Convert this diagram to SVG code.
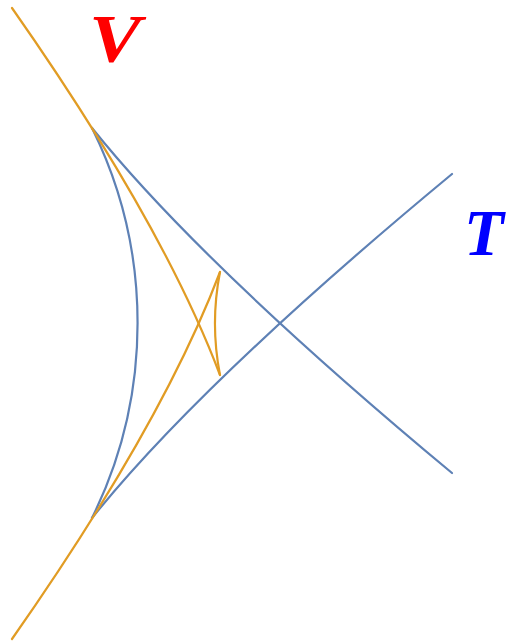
<svg xmlns="http://www.w3.org/2000/svg" width="512" height="641" viewBox="0 0 512 641">
<style>
.b{fill:none;stroke:#5E81B5;stroke-width:2.2;stroke-linecap:round}
.o{fill:none;stroke:#E19C24;stroke-width:2.2;stroke-linecap:round}
.lbl{font-family:"Liberation Serif","Times New Roman",serif;font-weight:bold;font-style:italic}
</style>
<rect width="512" height="641" fill="#fff"/>
<g id="connectors">
<path class="b" d="M92,128 A440,440 0 0 1 92,518"/>
<path class="b" d="M92,128 Q202,265 452,473"/>
<path class="b" d="M92,518 Q202,381 452,174"/>
<path class="o" d="M12,8 Q162,222 220,375"/>
<path class="o" d="M12,639 Q162,425 220,272"/>
<path class="o" d="M220,272 A268,268 0 0 0 220,375"/>
</g>
<g id="label-V"><text class="lbl" x="89" y="61" font-size="68" fill="#FF0000" textLength="52" lengthAdjust="spacingAndGlyphs">V</text></g>
<g id="label-T"><text class="lbl" x="464" y="255" font-size="65" fill="#0000FF">T</text></g>
</svg>
